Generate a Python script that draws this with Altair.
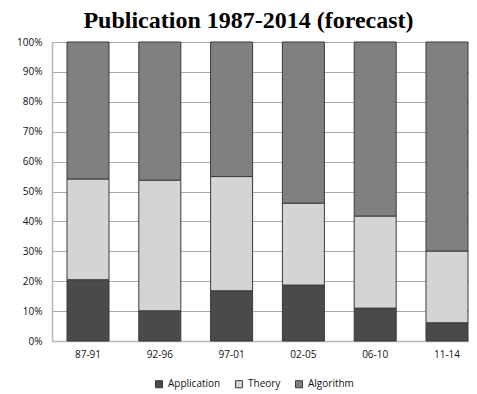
import altair as alt
import pandas as pd

periods = ["87-91", "92-96", "97-01", "02-05", "06-10", "11-14"]
application = [20.5, 10.1, 16.8, 18.7, 11.0, 6.1]
theory = [33.7, 43.7, 38.2, 27.4, 30.8, 24.0]
algorithm = [45.8, 46.2, 45.0, 53.9, 58.2, 69.9]
series = ["Application", "Theory", "Algorithm"]
colors = ["#4a4a4a", "#d4d4d4", "#808080"]

rows = []
for i, p in enumerate(periods):
    for k, (name, vals) in enumerate(zip(series, [application, theory, algorithm])):
        rows.append({"period": p, "series": name, "value": vals[i] / 100.0, "order": k})
df = pd.DataFrame(rows)

FONT = "Open Sans"

chart = alt.Chart(df).mark_bar(stroke="#3a3a3a", strokeWidth=1).encode(
    x=alt.X("period:N", sort=periods, title=None,
            scale=alt.Scale(paddingInner=0.415, paddingOuter=0.209, range=[0, 431]),
            axis=alt.Axis(labelAngle=0, labelFont=FONT, labelFontSize=10, labelColor="#111",
                          ticks=False, domainColor="#b5b5b5", domainWidth=1.5, labelPadding=8, grid=False)),
    y=alt.Y("value:Q", stack="zero", title=None,
            scale=alt.Scale(domain=[0, 1], nice=False),
            axis=alt.Axis(format=".0%", values=[i / 10 for i in range(11)], labelFont=FONT,
                          labelFontSize=10, labelColor="#111", ticks=False, labelPadding=10,
                          domainColor="#b5b5b5", domainWidth=1.5, gridColor="#a8a8a8", gridWidth=1)),
    color=alt.Color("series:N", scale=alt.Scale(domain=series, range=colors), title=None,
                    legend=alt.Legend(orient="none", legendX=102, legendY=337, direction="horizontal",
                                      symbolType="square", symbolSize=50, symbolStrokeColor="#3a3a3a",
                                      symbolStrokeWidth=1, labelFont=FONT, labelFontSize=10,
                                      labelColor="#111", columnPadding=12, labelOffset=4)),
    order=alt.Order("order:Q"),
).properties(
    width=417, height=299,
    autosize=alt.AutoSizeParams(type="none"),
    padding={"left": 44, "top": 34, "right": 0, "bottom": 50},
    title=alt.TitleParams("Publication 1987-2014 (forecast)", font="Liberation Serif", fontSize=24,
                          fontWeight="bold", color="#000", anchor="middle", dx=-12, offset=4),
).configure_view(stroke=None)

chart.save("out.html", embed_options={"renderer": "svg", "actions": False})
